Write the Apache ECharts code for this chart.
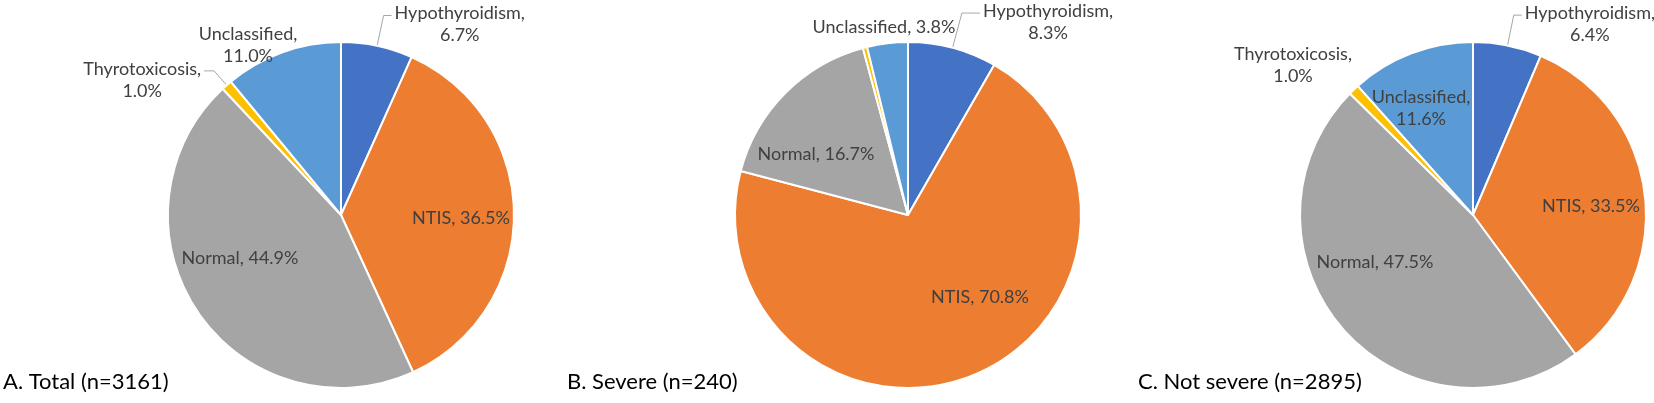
<!DOCTYPE html>
<html>
<head>
<meta charset="utf-8">
<title>Thyroid function pies</title>
<script src="https://cdn.jsdelivr.net/npm/echarts@6/dist/echarts.min.js"></script>
<style>
html, body { margin: 0; padding: 0; background: #fff; }
#main { width: 1654px; height: 403px; }
</style>
</head>
<body>
<div id="main"></div>
<script>
// data (percent of patients)
var categories = ['Hypothyroidism', 'NTIS', 'Normal', 'Thyrotoxicosis', 'Unclassified'];
var totalValues = [6.7, 36.5, 44.9, 1.0, 11.0];
var severeValues = [8.3, 70.8, 16.7, 0.4, 3.8];
var notSevereValues = [6.4, 33.5, 47.5, 1.0, 11.6];
var panelTitles = ['A. Total (n=3161)', 'B. Severe (n=240)', 'C. Not severe (n=2895)'];

var colors = ['#4472C4', '#ED7D31', '#A5A5A5', '#FFC000', '#5B9BD5'];
var FONT = 'Lato';

// where each pie sits and how its labels are placed
// 'line' = outside label with leader line, 'at' = label centred at offset from pie centre
var panels = [
    {
        values: totalValues, cx: 341, cy: 215, titleLeft: 3,
        labels: [
            {mode: 'line', len: 31, len2: 8, wrap: true},
            {mode: 'at', dx: 120, dy: 3},
            {mode: 'at', dx: -101, dy: 43},
            {mode: 'line', len: 19, len2: 10, wrap: true},
            {mode: 'at', dx: -93, dy: -170, wrap: true}
        ]
    },
    {
        values: severeValues, cx: 908, cy: 215, titleLeft: 567,
        labels: [
            {mode: 'line', len: 36, len2: 18, wrap: true},
            {mode: 'at', dx: 72, dy: 82},
            {mode: 'at', dx: -92, dy: -61},
            null,
            {mode: 'at', dx: -24, dy: -188}
        ]
    },
    {
        values: notSevereValues, cx: 1473, cy: 215, titleLeft: 1138,
        labels: [
            {mode: 'line', len: 31, len2: 8, wrap: true},
            {mode: 'at', dx: 118, dy: -9},
            {mode: 'at', dx: -98, dy: 47},
            {mode: 'at', dx: -180, dy: -150, wrap: true},
            {mode: 'at', dx: -52, dy: -107, wrap: true}
        ]
    }
];

function makeSeries(p) {
    return {
        type: 'pie',
        center: [p.cx, p.cy],
        radius: 173,
        startAngle: 90,
        clockwise: true,
        avoidLabelOverlap: false,
        silent: true,
        itemStyle: {borderColor: '#fff', borderWidth: 2},
        label: {
            color: '#404040',
            fontFamily: FONT,
            fontSize: 18,
            lineHeight: 22,
            distanceToLabelLine: 3,
            formatter: function (prm) {
                var l = p.labels[prm.dataIndex];
                return prm.name + ',' + (l && l.wrap ? '\n' : ' ') + prm.value.toFixed(1) + '%';
            }
        },
        labelLine: {lineStyle: {color: '#A6A6A6', width: 1}},
        data: p.values.map(function (v, i) {
            var l = p.labels[i];
            var item = {name: categories[i], value: v, itemStyle: {color: colors[i]}};
            if (!l) {
                item.label = {show: false};
                item.labelLine = {show: false};
            } else if (l.mode === 'line') {
                item.label = {position: 'outside'};
                item.labelLine = {show: true, length: l.len, length2: l.len2};
            } else {
                item.label = {position: 'inside'};
                item.labelLine = {show: false};
            }
            return item;
        }),
        labelLayout: function (prm) {
            var l = p.labels[prm.dataIndex];
            if (!l) return {};
            if (l.mode === 'at') {
                return {x: p.cx + l.dx, y: p.cy + l.dy, align: 'center', verticalAlign: 'middle'};
            }
            // keep the leader line ECharts drew, hang the centred text off its end
            var pts = prm.labelLinePoints;
            var end = pts[pts.length - 1];
            var onRight = end[0] >= pts[0][0];
            var w = prm.labelRect.width;
            return {
                x: onRight ? end[0] + 3 + w / 2 : end[0] - 3 - w / 2,
                y: end[1] + 9,
                align: 'center',
                verticalAlign: 'middle',
                labelLinePoints: pts
            };
        }
    };
}

var myChart = echarts.init(document.getElementById('main'));

option = {
    backgroundColor: '#fff',
    animation: false,
    title: panels.map(function (p, i) {
        return {
            text: panelTitles[i],
            left: p.titleLeft,
            top: 371,
            padding: 0,
            textStyle: {fontFamily: FONT, fontSize: 22, fontWeight: 'normal', color: '#000'}
        };
    }),
    series: panels.map(makeSeries)
};

myChart.setOption(option);
</script>
</body>
</html>
